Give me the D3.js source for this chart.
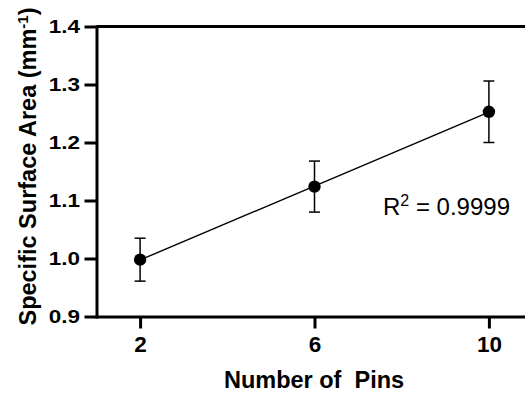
<!DOCTYPE html>
<html>
<head>
<meta charset="utf-8">
<script src="https://cdn.jsdelivr.net/npm/d3@7"></script>
<style>
  html, body { margin: 0; padding: 0; background: #fff; }
  svg { display: block; font-family: "Liberation Sans", Arial, sans-serif; }
</style>
</head>
<body>
<svg id="chart" width="525" height="399"></svg>
<script>
// Specific surface area versus number of pins (mean ± SD)
const pins = [2, 6, 10];
const ssaMean = [0.998, 1.124, 1.253];
const ssaSD = [0.037, 0.044, 0.053];
const xTicks = [2, 6, 10];
const yTicks = [0.9, 1.0, 1.1, 1.2, 1.3, 1.4];
const rSquaredLabel = "0.9999";

const svg = d3.select("#chart");
const W = 525, H = 399;

const x = d3.scaleLinear().domain([1, 11]).range([96.5, 532.5]);
const y = d3.scaleLinear().domain([0.9, 1.4]).range([316.5, 26.5]);

// Least-squares fit through the means
const n = pins.length;
const mx = d3.mean(pins), my = d3.mean(ssaMean);
const slope = d3.sum(pins, (p, i) => (p - mx) * (ssaMean[i] - my)) /
              d3.sum(pins, p => (p - mx) * (p - mx));
const intercept = my - slope * mx;

// Top frame line
svg.append("line")
  .attr("x1", x(1)).attr("x2", W)
  .attr("y1", y(1.4)).attr("y2", y(1.4))
  .attr("stroke", "#000").attr("stroke-width", 3);

// Y axis
const yAxis = svg.append("g")
  .attr("transform", `translate(${x(1)},0)`)
  .call(d3.axisLeft(y).tickValues(yTicks).tickSize(12).tickSizeOuter(0)
        .tickFormat(d3.format(".1f")));
yAxis.select(".domain").attr("stroke-width", 3).attr("stroke-linecap", "square");
yAxis.selectAll(".tick line").attr("stroke-width", 3);
yAxis.selectAll(".tick text")
  .attr("x", 0).attr("dy", "0.36em")
  .attr("transform", "translate(-16.5,0) scale(1.25,1)")
  .style("font-size", "18px").style("font-weight", "bold")
  .style("font-family", "'Liberation Sans', Arial, sans-serif")
  .attr("fill", "#000");

// X axis
const xAxis = svg.append("g")
  .attr("transform", `translate(0,${y(0.9)})`)
  .call(d3.axisBottom(x).tickValues(xTicks).tickSize(12).tickSizeOuter(0)
        .tickFormat(d3.format("d")));
xAxis.select(".domain").attr("stroke-width", 3).attr("stroke-linecap", "square");
xAxis.selectAll(".tick line").attr("stroke-width", 3);
xAxis.selectAll(".tick text")
  .attr("y", 35.5).attr("dy", 0)
  .style("font-size", "22.5px").style("font-weight", "bold")
  .style("font-family", "'Liberation Sans', Arial, sans-serif")
  .attr("fill", "#000");

// Regression line
svg.append("line")
  .attr("x1", x(pins[0])).attr("y1", y(intercept + slope * pins[0]))
  .attr("x2", x(pins[n - 1])).attr("y2", y(intercept + slope * pins[n - 1]))
  .attr("stroke", "#000").attr("stroke-width", 1.4);

// Error bars
const eb = svg.append("g").attr("stroke", "#000").attr("stroke-width", 1.5);
pins.forEach((p, i) => {
  const top = y(ssaMean[i] + ssaSD[i]), bot = y(ssaMean[i] - ssaSD[i]);
  eb.append("line").attr("x1", x(p)).attr("x2", x(p)).attr("y1", top).attr("y2", bot);
  eb.append("line").attr("x1", x(p) - 5.5).attr("x2", x(p) + 5.5).attr("y1", top).attr("y2", top);
  eb.append("line").attr("x1", x(p) - 5.5).attr("x2", x(p) + 5.5).attr("y1", bot).attr("y2", bot);
});

// Mean markers
svg.append("g").selectAll("circle")
  .data(pins)
  .join("circle")
  .attr("cx", d => x(d))
  .attr("cy", (d, i) => y(ssaMean[i]))
  .attr("r", 6.2)
  .attr("fill", "#000");

// R² annotation
const r2 = svg.append("text")
  .attr("x", 383).attr("y", 215)
  .style("font-size", "24px").attr("fill", "#000");
r2.append("tspan").text("R");
r2.append("tspan").attr("dy", -9).style("font-size", "16px").text("2");
r2.append("tspan").attr("dy", 9).text(" = " + rSquaredLabel);

// Axis titles
svg.append("text")
  .attr("x", 314).attr("y", 388)
  .attr("text-anchor", "middle")
  .style("font-size", "23.5px").style("font-weight", "bold")
  .style("white-space", "pre")
  .attr("xml:space", "preserve")
  .text("Number of  Pins");

const yt = svg.append("text")
  .attr("transform", "translate(36,166.5) rotate(-90)")
  .attr("text-anchor", "middle")
  .style("font-size", "23.5px").style("font-weight", "bold");
yt.append("tspan").text("Specific Surface Area (mm");
yt.append("tspan").attr("dy", -8.5).style("font-size", "15px").text("-1");
yt.append("tspan").attr("dy", 8.5).text(")");
</script>
</body>
</html>
